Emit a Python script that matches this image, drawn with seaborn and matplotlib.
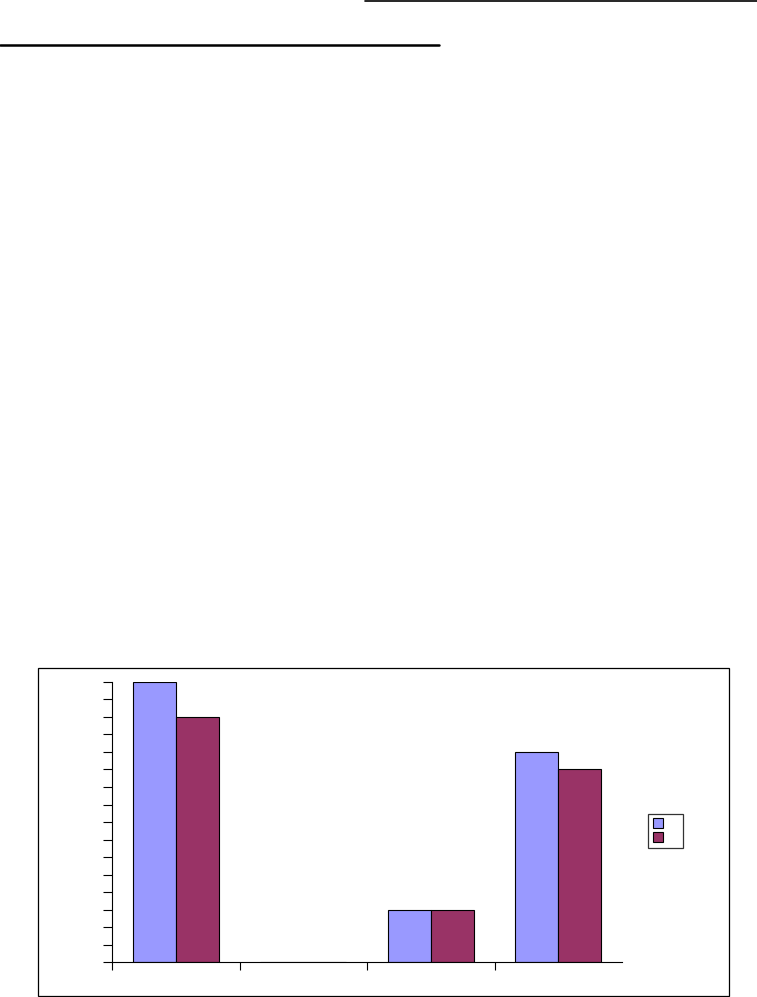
import matplotlib
matplotlib.use("Agg")
import matplotlib.pyplot as plt
from matplotlib.lines import Line2D
from matplotlib.patches import Rectangle, Patch
import seaborn as sns
import pandas as pd

categories = ["1", "2", "3", "4"]
series_names = ["Series1", "Series2"]
series1 = [16, 0, 3, 12]
series2 = [14, 0, 3, 11]
colors = ["#9999FF", "#993366"]

W, H = 757, 997
sns.set_style("white")
fig = plt.figure(figsize=(W / 100, H / 100), dpi=100)
fig.patch.set_facecolor("white")

def fx(px):
    return px / W

def fy(py):
    return 1 - py / H

# decorative rules at top of page
fig.add_artist(Line2D([fx(365), fx(757)], [fy(1), fy(1)], color="black", lw=1.2,
                      transform=fig.transFigure))
fig.add_artist(Line2D([fx(0), fx(439)], [fy(45.5), fy(45.5)], color="black", lw=1.8,
                      transform=fig.transFigure))

# chart frame
fig.add_artist(Rectangle((fx(38), fy(996)), fx(729) - fx(38), fy(668) - fy(996),
                         fill=False, edgecolor="black", lw=0.9, transform=fig.transFigure))

ax = fig.add_axes([fx(112), fy(962), fx(622) - fx(112), fy(682) - fy(962)])

df = pd.DataFrame({
    "category": categories * 2,
    "series": [series_names[0]] * len(categories) + [series_names[1]] * len(categories),
    "value": series1 + series2,
})

sns.barplot(data=df, x="category", y="value", hue="series", palette=colors,
            width=0.675, edgecolor="black", linewidth=0.8, saturation=1,
            legend=False, ax=ax)

ax.set_xlim(-0.5, 3.5)
ax.set_ylim(0, 16)
ax.set_yticks(range(0, 17))
ax.set_xticks([-0.5, 0.5, 1.5, 2.5])
ax.set_xticklabels([])
ax.set_yticklabels([])
ax.set_xlabel("")
ax.set_ylabel("")
ax.set_facecolor("white")
for s in ["top", "right"]:
    ax.spines[s].set_visible(False)
for s in ["left", "bottom"]:
    ax.spines[s].set_color("black")
    ax.spines[s].set_linewidth(0.8)
ax.tick_params(axis="y", direction="out", length=6.5, width=0.8, color="black", left=True)
ax.tick_params(axis="x", direction="out", length=6, width=0.8, color="black", bottom=True)

handles = [Patch(facecolor=c, edgecolor="black", lw=0.8) for c in colors]
leg = fig.legend(handles, ["", ""], loc="center",
                 bbox_to_anchor=(fx(665.5), fy(830.5)),
                 frameon=True, fancybox=False, fontsize=8,
                 handlelength=0.9, handleheight=0.95, handletextpad=1.4,
                 borderpad=0.4, labelspacing=0.35, borderaxespad=0)
leg.get_frame().set_edgecolor("black")
leg.get_frame().set_linewidth(0.9)

fig.savefig("out.png", dpi=100, facecolor="white")
